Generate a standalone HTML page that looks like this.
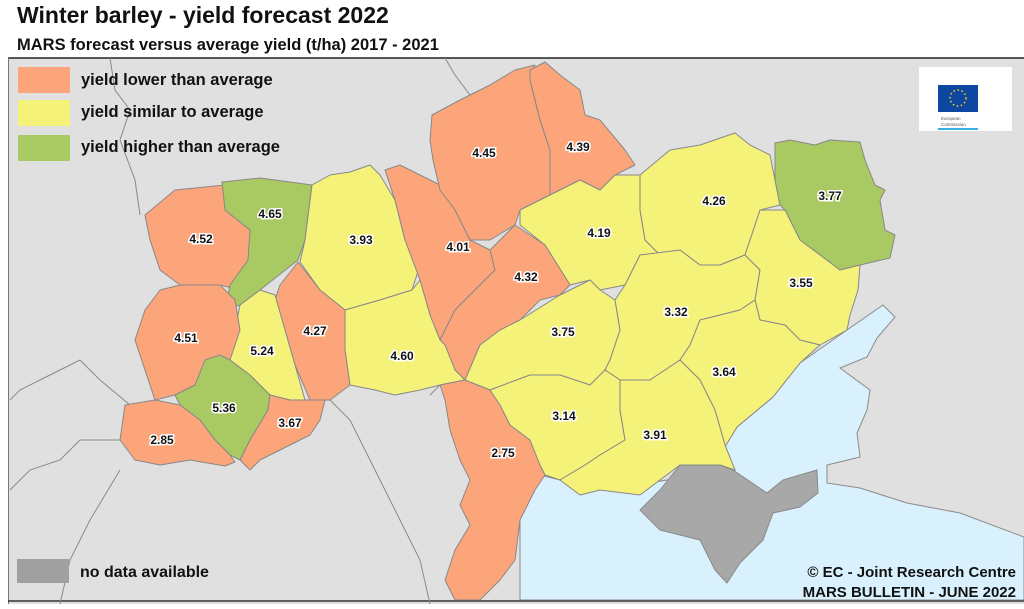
<!DOCTYPE html>
<html><head><meta charset="utf-8"><style>
body{margin:0;background:#fff;width:1024px;height:604px;overflow:hidden;font-family:"Liberation Sans",Arial,sans-serif}
</style></head><body>
<svg width="1024" height="604" viewBox="0 0 1024 604" xmlns="http://www.w3.org/2000/svg" font-family="Liberation Sans, Arial, sans-serif">
<text x="17" y="23" font-size="23" font-weight="bold" fill="#111">Winter barley - yield forecast 2022</text>
<text x="17" y="50" font-size="16.5" font-weight="bold" fill="#111">MARS forecast versus average yield (t/ha) 2017 - 2021</text>
<rect x="8" y="58" width="1016" height="546" fill="#e0e0e0"/>
<line x1="8" y1="58" x2="1024" y2="58" stroke="#222" stroke-width="1.5"/>
<line x1="8.5" y1="58" x2="8.5" y2="604" stroke="#777" stroke-width="1"/>
<line x1="8" y1="601" x2="1024" y2="601" stroke="#333" stroke-width="1.5"/>
<!-- sea -->
<polygon fill="#d9f1fc" stroke="#8a8a8a" stroke-width="1" points="520,470 560,480 600,490 735,470 723,450 737,427 773,397 800,363 847,330 883,305 895,317 877,338 867,357 840,368 870,390 867,410 857,433 860,457 827,465 827,483 860,488 907,503 960,513 1024,537 1024,600 520,600 520,540"/>
<!-- borders -->
<g fill="none" stroke="#8a8a8a" stroke-width="1">
<polyline points="110,58 115,90 130,110 120,140 135,180 140,215"/>
<polyline points="445,58 455,75 470,95 455,105"/>
<polyline points="10,400 20,390 40,380 60,370 80,360 100,380 130,405"/>
<polyline points="10,490 30,470 60,460 80,440 100,440 120,440"/>
<polyline points="60,604 70,560 90,520 120,470"/>
<polyline points="330,400 350,420 365,450 380,480 400,520 420,560 430,604"/>
<polyline points="440,385 430,395"/>
</g>
<g stroke="#888" stroke-width="1" stroke-linejoin="round">
<polygon fill="#fca57b" points="145,215 175,190 225,185 225,210 250,230 255,260 240,290 220,285 180,285 160,270 150,240"/>
<polygon fill="#a9c962" points="222,182 260,178 290,182 312,185 305,240 298,260 260,290 240,305 225,310 230,285 248,260 250,230 225,210"/>
<polygon fill="#f5f279" points="312,185 330,175 350,172 370,165 380,175 395,200 405,240 420,265 412,290 380,300 345,310 320,290 300,262 305,240"/>
<polygon fill="#fca57b" points="385,170 400,165 420,175 440,185 455,210 470,240 490,250 495,270 475,290 455,310 440,340 430,315 420,280 405,240 395,200"/>
<polygon fill="#fca57b" points="432,115 460,100 490,85 515,70 535,65 530,80 540,120 550,150 550,195 520,210 515,225 490,240 470,240 455,210 440,190 433,160 430,140"/>
<polygon fill="#fca57b" points="530,70 545,62 560,75 580,90 585,115 600,120 625,150 635,165 615,175 600,190 580,180 560,190 550,195 550,150 540,120 530,80"/>
<polygon fill="#f5f279" points="520,210 550,195 580,180 600,190 615,175 640,175 640,210 645,240 660,255 640,255 625,285 600,290 590,280 570,285 545,245 520,225"/>
<polygon fill="#f5f279" points="640,175 670,150 700,145 735,133 750,145 770,155 775,180 780,205 760,210 745,255 720,265 700,265 680,250 660,255 645,240 640,210"/>
<polygon fill="#a9c962" points="775,143 790,140 815,145 830,140 860,142 865,160 875,185 885,190 880,200 885,230 895,235 890,258 860,265 840,270 800,240 785,210 780,205 775,180"/>
<polygon fill="#fca57b" points="490,250 515,225 545,245 570,285 560,295 540,300 520,320 500,330 480,345 465,380 455,370 445,345 440,340 455,310 475,290 495,270"/>
<polygon fill="#f5f279" points="520,320 560,295 590,280 600,290 615,300 620,330 610,360 605,370 590,385 560,375 530,375 490,390 465,380 480,345 500,330"/>
<polygon fill="#f5f279" points="625,285 640,255 680,250 700,265 720,265 745,255 760,270 755,300 740,310 700,320 690,345 680,360 650,380 620,380 605,370 610,360 620,330 615,300"/>
<polygon fill="#f5f279" points="760,210 785,210 800,240 840,270 860,265 858,290 850,315 847,330 820,345 800,340 785,325 760,320 755,300 760,270 745,255"/>
<polygon fill="#f5f279" points="700,320 740,310 755,300 760,320 785,325 800,340 820,345 800,363 773,397 737,427 723,450 735,470 725,445 715,410 700,380 680,360 690,345"/>
<polygon fill="#f5f279" points="345,310 380,300 412,290 420,280 430,315 440,340 445,345 455,370 465,380 440,385 420,390 395,395 375,390 350,385 345,350"/>
<polygon fill="#fca57b" points="280,285 298,262 320,290 345,310 345,350 350,385 330,400 310,400 295,365 285,330 275,300"/>
<polygon fill="#f5f279" points="240,305 260,290 275,295 285,330 295,365 305,400 290,400 270,395 250,375 230,360 235,330"/>
<polygon fill="#fca57b" points="160,290 180,285 220,285 235,300 240,330 230,360 210,370 195,385 175,395 155,400 145,370 135,340 145,310"/>
<polygon fill="#a9c962" points="205,360 220,355 230,360 250,375 270,395 268,410 250,440 240,460 230,455 215,440 200,420 180,405 175,395 195,385"/>
<polygon fill="#fca57b" points="125,405 155,400 180,405 200,420 215,440 230,455 235,462 225,466 190,460 160,465 135,460 120,440"/>
<polygon fill="#fca57b" points="270,395 290,400 305,400 325,400 320,420 310,435 290,445 260,460 250,470 240,460 250,440 268,410"/>
<polygon fill="#fca57b" points="440,385 465,380 490,390 500,405 510,425 530,440 540,465 545,475 535,490 520,520 515,560 500,580 480,600 455,600 445,580 455,550 470,525 460,505 470,480 460,460 450,430 445,400"/>
<polygon fill="#f5f279" points="490,390 530,375 560,375 590,385 605,370 620,380 620,410 625,440 600,455 585,465 560,480 545,475 540,465 530,440 510,425 500,405"/>
<polygon fill="#f5f279" points="620,380 650,380 680,360 700,380 715,410 725,445 735,470 720,465 680,465 660,480 640,495 600,490 580,495 560,480 585,465 600,455 625,440 620,410"/>
<polygon fill="#a8a8a8" points="680,465 720,465 733,470 767,493 783,480 817,470 818,493 800,507 773,513 763,540 740,563 727,583 715,570 700,540 660,530 640,510 660,490"/>
</g>
<g font-size="12" font-weight="bold" fill="#111" text-anchor="middle" stroke="#fff" stroke-width="3" paint-order="stroke">
<text x="484" y="157">4.45</text><text x="578" y="151">4.39</text>
<text x="201" y="243">4.52</text><text x="270" y="218">4.65</text>
<text x="361" y="244">3.93</text><text x="458" y="251">4.01</text>
<text x="599" y="237">4.19</text><text x="714" y="205">4.26</text>
<text x="830" y="200">3.77</text><text x="526" y="281">4.32</text>
<text x="801" y="287">3.55</text><text x="676" y="316">3.32</text>
<text x="186" y="342">4.51</text><text x="262" y="355">5.24</text>
<text x="315" y="335">4.27</text><text x="402" y="360">4.60</text>
<text x="563" y="336">3.75</text><text x="724" y="376">3.64</text>
<text x="224" y="412">5.36</text><text x="290" y="427">3.67</text>
<text x="162" y="444">2.85</text><text x="564" y="420">3.14</text>
<text x="503" y="457">2.75</text><text x="655" y="439">3.91</text>
</g>
<rect x="18" y="67" width="52" height="26" fill="#fca57b"/>
<rect x="18" y="100" width="52" height="26" fill="#f5f279"/>
<rect x="18" y="135" width="52" height="26" fill="#a9c962"/>
<g font-size="16.5" font-weight="bold" fill="#111">
<text x="81" y="85">yield lower than average</text>
<text x="81" y="117">yield similar to average</text>
<text x="81" y="152">yield higher than average</text>
</g>
<rect x="17" y="559" width="52" height="24" fill="#a0a0a0"/>
<text x="80" y="577" font-size="16" font-weight="bold" fill="#111">no data available</text>
<text x="1016" y="577" font-size="15" font-weight="bold" fill="#111" text-anchor="end">© EC - Joint Research Centre</text>
<text x="1016" y="597" font-size="15" font-weight="bold" fill="#111" text-anchor="end">MARS BULLETIN - JUNE 2022</text>
<rect x="919" y="67" width="93" height="64" fill="#fff"/>
<rect x="938" y="85" width="40" height="27" fill="#0e47a1"/>
<circle cx="958" cy="98" r="8" fill="none" stroke="#ffd600" stroke-width="1.5" stroke-dasharray="1.5 2.6"/>
<text x="941" y="120" font-size="4.5" fill="#555">European</text>
<text x="941" y="126" font-size="4.5" fill="#555">Commission</text>
<rect x="938" y="128" width="40" height="2" fill="#3ab0e2"/>
</svg>
</body></html>
